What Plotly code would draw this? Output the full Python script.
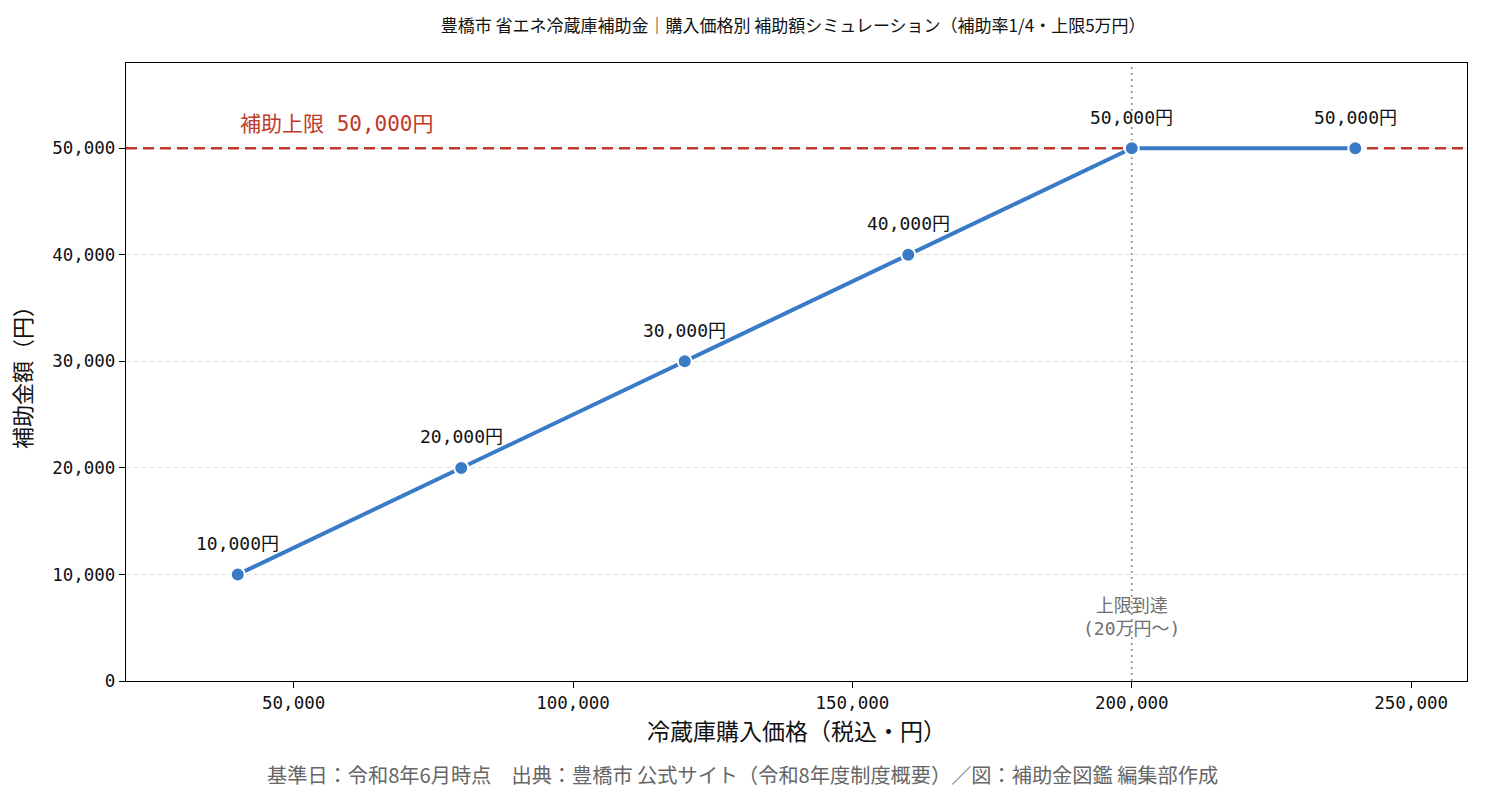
import plotly.graph_objects as go

prices = [40000, 80000, 120000, 160000, 200000, 240000]
subsidy = [10000, 20000, 30000, 40000, 50000, 50000]
point_labels = ["10,000円", "20,000円", "30,000円", "40,000円", "50,000円", "50,000円"]
cap_value = 50000
cap_price = 200000
x_range = [20000, 260000]
y_range = [0, 58000]
x_ticks = [50000, 100000, 150000, 200000, 250000]
x_tick_labels = ["50,000", "100,000", "150,000", "200,000", "250,000"]
y_ticks = [0, 10000, 20000, 30000, 40000, 50000]
y_tick_labels = ["0", "10,000", "20,000", "30,000", "40,000", "50,000"]

FONT = "DejaVu Sans Mono, Noto Sans CJK JP, monospace"
CJK = "Noto Sans CJK JP, DejaVu Sans Mono, sans-serif"

fig = go.Figure()
# vertical dotted line at cap price
fig.add_trace(go.Scatter(
    x=[cap_price, cap_price], y=y_range, mode="lines",
    line=dict(color="#8a8a8a", width=1.6, dash="2px,4px"),
    showlegend=False, hoverinfo="skip",
))
# red dashed cap line
fig.add_trace(go.Scatter(
    x=x_range, y=[cap_value, cap_value], mode="lines",
    line=dict(color="#c0392b", width=2.5, dash="11px,6px"),
    showlegend=False, hoverinfo="skip",
))
fig.add_trace(go.Scatter(
    x=prices, y=subsidy, mode="lines+markers",
    line=dict(color="#3a7bc8", width=4),
    marker=dict(size=14, color="#3a7bc8", line=dict(color="white", width=2)),
    cliponaxis=False, showlegend=False, hoverinfo="skip",
))

for xv, yv, lab in zip(prices, subsidy, point_labels):
    fig.add_annotation(x=xv, y=yv, yshift=31, xanchor="center", yanchor="middle",
                       text=lab, showarrow=False,
                       font=dict(size=18, color="#111111", family=FONT))

fig.add_annotation(x=prices[0], y=cap_value, yshift=24, xanchor="left", yanchor="middle",
                   text="補助上限 50,000円", showarrow=False,
                   font=dict(size=21, color="#c0392b", family=FONT))
fig.add_annotation(x=cap_price, y=6000, xanchor="center", yanchor="middle",
                   text="上限到達<br>(20万円～)", showarrow=False, bgcolor="rgba(0,0,0,0)",
                   font=dict(size=18, color="#707070", family=FONT))
fig.add_annotation(xref="paper", yref="paper", x=0.4594, y=-0.1505, xanchor="center", yanchor="middle",
                   text="基準日：令和8年6月時点　出典：豊橋市 公式サイト（令和8年度制度概要）／図：補助金図鑑 編集部作成",
                   showarrow=False, font=dict(size=20.2, color="#666666", family=CJK))

fig.update_layout(
    width=1485, height=810,
    margin=dict(l=126, r=18, t=63, b=129),
    paper_bgcolor="white", plot_bgcolor="white",
    font=dict(family=FONT, color="#111111"),
    title=dict(text="豊橋市 省エネ冷蔵庫補助金｜購入価格別 補助額シミュレーション（補助率1/4・上限5万円）",
               xref="paper", x=0.4975, xanchor="center", y=0.968, yanchor="middle",
               font=dict(size=17, color="#111111", family=CJK)),
    xaxis=dict(range=x_range, tickvals=x_ticks, ticktext=x_tick_labels,
               showgrid=False, zeroline=False, showline=True, linecolor="black", linewidth=1.2,
               mirror=True, ticks="outside", ticklen=6, tickcolor="black",
               tickfont=dict(size=17.5, family=FONT),
               title=dict(text="冷蔵庫購入価格（税込・円）", font=dict(size=23, family=CJK), standoff=10)),
    yaxis=dict(range=y_range, tickvals=y_ticks, ticktext=y_tick_labels,
               showgrid=True, gridcolor="#e0e0e0", griddash="5px,3px", gridwidth=1,
               zeroline=False, showline=True, linecolor="black", linewidth=1.2,
               mirror=True, ticks="outside", ticklen=6, tickcolor="black",
               tickfont=dict(size=17.5, family=FONT),
               title=dict(text="補助金額（円）", font=dict(size=22, family=CJK), standoff=14)),
)

fig.write_html("out.html")
